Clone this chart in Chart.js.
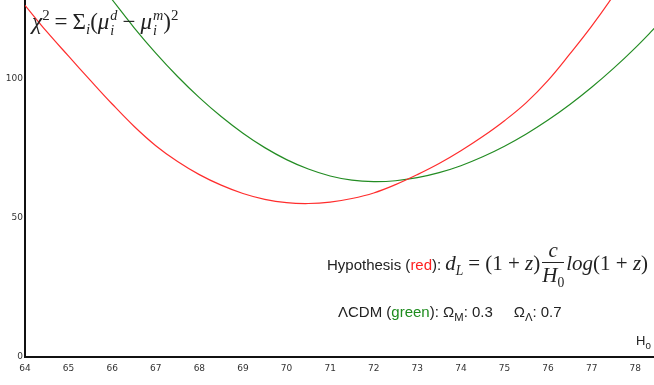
<!doctype html>
<html lang="en">
<head>
<meta charset="utf-8">
<script src="https://cdn.jsdelivr.net/npm/chart.js"></script>
<title>chi2 vs H0</title>
<style>
  body { margin: 0; background: #fff; }
  #wrap { position: relative; width: 654px; height: 385px; }
  .note { position: absolute; white-space: nowrap; color: #222; }
  .sans { font-family: "Liberation Sans", Arial, sans-serif; font-size: 15px; }
  .sans sub { font-size: 0.75em; }
  .math { font-family: "Liberation Serif", "DejaVu Serif", serif; color: #222; }
  .math i { font-style: italic; }
  .op { margin: 0 5px; }
  .ss { display: inline-flex; flex-direction: column; vertical-align: middle; font-size: 0.62em; line-height: 1.05; margin-left: 1px; }
  .frac { display: inline-flex; flex-direction: column; vertical-align: middle; text-align: center; margin: 0 2px; }
  .frac span:first-child { border-bottom: 1px solid #222; padding: 0 2px; line-height: 1.1; }
  .frac span:last-child { line-height: 1.15; }
  sub, sup { font-size: 0.65em; }
</style>
</head>
<body>
<div id="wrap">
  <canvas id="myChart"></canvas>

  <div class="note math" style="left:32px; top:7px; font-size:23px;">
    <i>χ</i><sup>2</sup><span class="op">=</span>Σ<sub><i>i</i></sub>(<i>μ</i><span class="ss"><i>d</i><i>i</i></span><span class="op">−</span><i>μ</i><span class="ss"><i>m</i><i>i</i></span>)<sup>2</sup>
  </div>

  <div class="note" style="left:327px; top:239px;">
    <span class="sans">Hypothesis (<span style="color:#ff2020">red</span>):</span>
    <span class="math" style="font-size:21px;"><i>d</i><sub><i>L</i></sub><span class="op">=</span>(1 + <i>z</i>)<span class="frac"><span><i>c</i></span><span><i>H</i><sub>0</sub></span></span><i>log</i>(1 + <i>z</i>)</span>
  </div>

  <div class="note sans" style="left:338px; top:303px;">
    ΛCDM (<span style="color:#1e8c1e">green</span>): Ω<sub>M</sub>: 0.3 &nbsp;&nbsp;&nbsp; Ω<sub>Λ</sub>: 0.7
  </div>

  <div class="note sans" style="left:636px; top:333px; font-size:13px;">H<sub>0</sub></div>
</div>

<script>
// H0 values and chi^2
var hRed = [64, 64.5, 65, 65.5, 66, 66.5, 67, 67.5, 68, 68.5, 69, 69.5, 70, 70.5, 71, 71.5, 72, 72.5, 73, 73.5, 74, 74.5, 75, 75.5, 76, 76.5, 77, 77.5, 78];
var chiRed = [126.5, 117, 108.2, 99.5, 91, 83, 76, 70.3, 65.6, 61.8, 58.8, 56.7, 55.5, 55.2, 55.7, 57, 59, 62, 65.6, 69.6, 74.2, 79.3, 85, 91.5, 99.5, 109, 119, 130, 142];

var hGreen = [66, 66.5, 67, 67.5, 68, 68.5, 69, 69.5, 70, 70.5, 71, 71.5, 72, 72.5, 73, 73.5, 74, 74.5, 75, 75.5, 76, 76.5, 77, 77.5, 78, 78.5];
var chiGreen = [128.5, 118.5, 109.3, 100.9, 93.3, 86.5, 80.5, 75.3, 71, 67.6, 65.1, 63.6, 63.1, 63.4, 64.5, 66.3, 68.8, 72, 75.8, 80.2, 85.2, 90.8, 97, 103.8, 111.2, 119.2];

var xTicks = [64, 65, 66, 67, 68, 69, 70, 71, 72, 73, 74, 75, 76, 77, 78];
var yTicks = [0, 50, 100];

function pts(xs, ys) {
  return xs.map(function (x, i) { return { x: x, y: ys[i] }; });
}

function noPad(s) {
  s.paddingTop = 0; s.paddingBottom = 0; s.paddingLeft = 0; s.paddingRight = 0;
}

new Chart(document.getElementById('myChart'), {
  type: 'line',
  data: {
    datasets: [
      {
        label: 'Hypothesis',
        data: pts(hRed, chiRed),
        borderColor: 'rgb(255,45,45)',
        borderWidth: 1.2,
        pointRadius: 0,
        tension: 0.4,
        fill: false
      },
      {
        label: 'LCDM',
        data: pts(hGreen, chiGreen),
        borderColor: 'rgb(35,140,35)',
        borderWidth: 1.2,
        pointRadius: 0,
        tension: 0.4,
        fill: false
      }
    ]
  },
  options: {
    responsive: true,
    maintainAspectRatio: false,
    animation: false,
    layout: { padding: 0 },
    plugins: {
      legend: { display: false },
      tooltip: { enabled: false }
    },
    scales: {
      x: {
        type: 'linear',
        min: 64,
        max: 78.43,
        grid: { display: false, drawTicks: false },
        border: { display: true, color: '#111', width: 2 },
        afterBuildTicks: function (s) { s.ticks = xTicks.map(function (v) { return { value: v }; }); },
        ticks: { padding: 6, color: '#333', font: { family: 'DejaVu Sans', size: 9 }, maxRotation: 0 },
        afterFit: function (s) { s.height = 28; noPad(s); }
      },
      y: {
        min: 0,
        max: 128.4,
        grid: { display: false, drawTicks: false },
        border: { display: true, color: '#111', width: 2 },
        afterBuildTicks: function (s) { s.ticks = yTicks.map(function (v) { return { value: v }; }); },
        ticks: { padding: 2, color: '#333', font: { family: 'DejaVu Sans', size: 9 } },
        afterFit: function (s) { s.width = 25; noPad(s); }
      }
    }
  }
});
</script>
</body>
</html>
